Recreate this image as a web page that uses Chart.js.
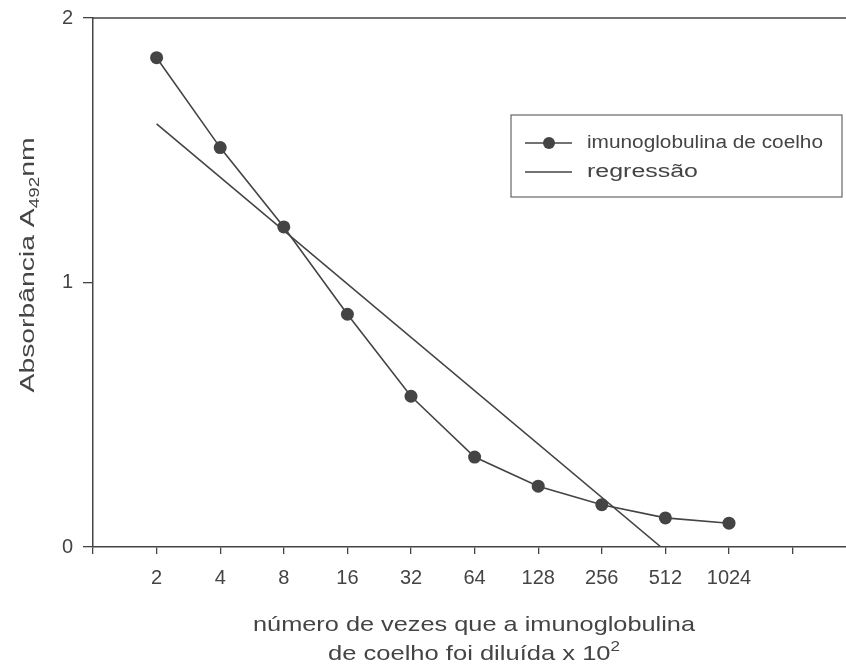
<!DOCTYPE html>
<html>
<head>
<meta charset="utf-8">
<script src="https://cdn.jsdelivr.net/npm/chart.js@4.4.0/dist/chart.umd.min.js"></script>
<style>
  html, body { margin: 0; padding: 0; background: #fff; overflow: hidden; }
  #wrap { width: 846px; height: 667px; position: relative; }
  canvas { display: block; }
</style>
</head>
<body>
<div id="wrap"><canvas id="grafico"></canvas></div>
<script>
// diluições (x 10^2) e absorbância medida a 492 nm
const diluicoes = [2, 4, 8, 16, 32, 64, 128, 256, 512, 1024];
const absorbancia = [1.85, 1.51, 1.21, 0.88, 0.57, 0.34, 0.23, 0.16, 0.11, 0.09];

// extremos da reta de regressão
const regressaoX = [2, 488];
const regressaoY = [1.60, 0];

// marcas dos eixos
const xTicks = [1, 2, 4, 8, 16, 32, 64, 128, 256, 512, 1024, 2048];
const xTickLabels = ['', '2', '4', '8', '16', '32', '64', '128', '256', '512', '1024', ''];
const yTicks = [0, 1, 2];

const CINZA = '#444';
const FONTE = '"Liberation Sans", Arial, sans-serif';

// escreve pedaços de texto (normal / índice / expoente) esticados até a largura pedida
function textoComposto(ctx, partes, x, y, largura, alinhar) {
  let natural = 0;
  partes.forEach(p => { ctx.font = p.font; p.w = ctx.measureText(p.t).width; natural += p.w; });
  const k = largura / natural;
  ctx.save();
  ctx.translate(alinhar === 'center' ? x - largura / 2 : x, y);
  ctx.scale(k, 1);
  let cx = 0;
  partes.forEach(p => {
    ctx.font = p.font;
    ctx.fillText(p.t, cx, p.dy || 0);
    cx += p.w;
  });
  ctx.restore();
}

// moldura superior, títulos dos eixos e legenda
const extras = {
  id: 'extras',
  afterDraw(chart) {
    const ctx = chart.ctx;
    const area = chart.chartArea;
    ctx.save();

    ctx.strokeStyle = CINZA;
    ctx.lineWidth = 1.5;
    ctx.beginPath();
    ctx.moveTo(area.left, area.top);
    ctx.lineTo(area.right, area.top);
    ctx.stroke();

    ctx.fillStyle = CINZA;
    ctx.textBaseline = 'alphabetic';
    ctx.textAlign = 'left';

    const fMain = '21px ' + FONTE, fSub = '14px ' + FONTE;

    // eixo y: "Absorbância A492nm" girado
    ctx.save();
    ctx.translate(34, 265);
    ctx.rotate(-Math.PI / 2);
    textoComposto(ctx, [
      { t: 'Absorbância A', font: fMain },
      { t: '492', font: fSub, dy: 5 },
      { t: 'nm', font: fMain }
    ], 0, 0, 255, 'center');
    ctx.restore();

    // eixo x: duas linhas, a segunda com expoente
    textoComposto(ctx, [{ t: 'número de vezes que a imunoglobulina', font: fMain }], 474, 631, 442, 'center');
    textoComposto(ctx, [
      { t: 'de coelho foi diluída x 10', font: fMain },
      { t: '2', font: fSub, dy: -9 }
    ], 474, 660, 292, 'center');

    // legenda
    ctx.lineWidth = 1.2;
    ctx.strokeStyle = '#666';
    ctx.strokeRect(511, 115, 331, 82);
    const linhas = [143, 172];
    const larguras = [236, 111];
    chart.data.datasets.forEach((d, i) => {
      const y = linhas[i];
      ctx.strokeStyle = d.borderColor;
      ctx.lineWidth = d.borderWidth;
      ctx.beginPath();
      ctx.moveTo(525, y);
      ctx.lineTo(572, y);
      ctx.stroke();
      if (d.pointRadius > 0) {
        ctx.fillStyle = d.pointBackgroundColor;
        ctx.beginPath();
        ctx.arc(549, y, 6, 0, Math.PI * 2);
        ctx.fill();
      }
      ctx.fillStyle = CINZA;
      ctx.textBaseline = 'middle';
      textoComposto(ctx, [{ t: d.label, font: '18px ' + FONTE }], 587, y, larguras[i], 'left');
    });

    ctx.restore();
  }
};

new Chart(document.getElementById('grafico'), {
  type: 'scatter',
  data: {
    datasets: [
      {
        label: 'imunoglobulina de coelho',
        data: diluicoes.map((d, i) => ({ x: d, y: absorbancia[i] })),
        showLine: true,
        borderColor: CINZA,
        borderWidth: 1.6,
        pointRadius: 6.5,
        pointBackgroundColor: CINZA,
        pointBorderWidth: 0
      },
      {
        label: 'regressão',
        data: regressaoX.map((d, i) => ({ x: d, y: regressaoY[i] })),
        showLine: true,
        borderColor: CINZA,
        borderWidth: 1.6,
        pointRadius: 0
      }
    ]
  },
  options: {
    responsive: true,
    maintainAspectRatio: false,
    animation: false,
    layout: { autoPadding: false, padding: { top: 18, right: 0, left: 0, bottom: 0 } },
    plugins: {
      legend: { display: false },
      tooltip: { enabled: false }
    },
    scales: {
      x: {
        type: 'logarithmic',
        min: 1,
        max: 3665,
        afterBuildTicks: (scale) => { scale.ticks = xTicks.map(v => ({ value: v })); },
        afterFit: (scale) => {
          scale.height = 120;
          scale.paddingLeft = 0;
          scale.paddingRight = 0;
        },
        ticks: {
          autoSkip: false,
          maxRotation: 0,
          padding: 12,
          color: CINZA,
          font: { family: FONTE, size: 20 },
          callback: (v) => xTickLabels[xTicks.indexOf(v)] ?? ''
        },
        grid: { drawOnChartArea: false, drawTicks: true, tickLength: 7, color: CINZA, lineWidth: 1.3 },
        border: { display: true, color: CINZA, width: 1.5 }
      },
      y: {
        min: 0,
        max: 2,
        afterBuildTicks: (scale) => { scale.ticks = yTicks.map(v => ({ value: v })); },
        afterFit: (scale) => {
          scale.width = 93;
          scale.paddingTop = 0;
          scale.paddingBottom = 0;
        },
        ticks: {
          padding: 10,
          color: CINZA,
          font: { family: FONTE, size: 20 }
        },
        grid: { drawOnChartArea: false, drawTicks: true, tickLength: 10, color: CINZA, lineWidth: 1.3 },
        border: { display: true, color: CINZA, width: 1.5 }
      }
    }
  },
  plugins: [extras]
});
</script>
</body>
</html>
